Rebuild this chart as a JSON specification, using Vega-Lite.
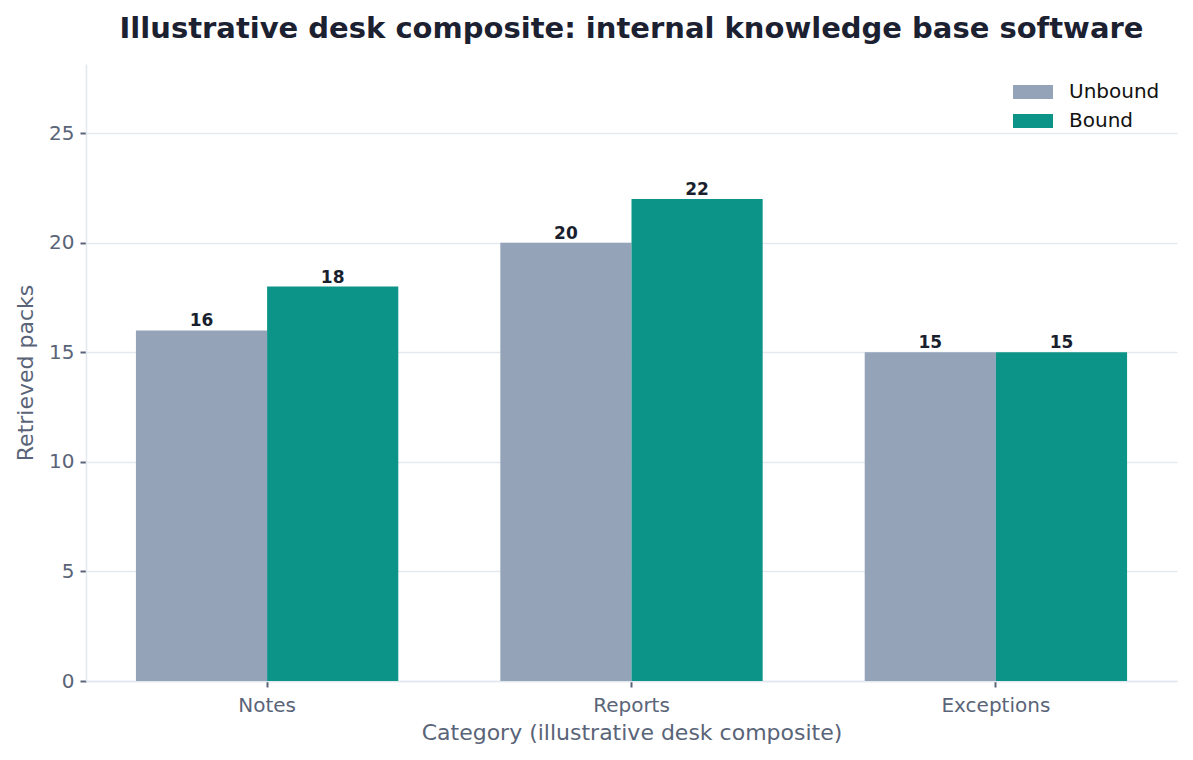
{
  "$schema": "https://vega.github.io/schema/vega-lite/v6.json",
  "width": 1091,
  "height": 617,
  "autosize": {"type": "none"},
  "padding": {"left": 86, "top": 64, "right": 16, "bottom": 79},
  "background": "white",
  "title": {
    "text": "Illustrative desk composite: internal knowledge base software",
    "font": "DejaVu Sans",
    "fontSize": 29,
    "fontWeight": "bold",
    "color": "#1c2131",
    "anchor": "middle",
    "offset": 20
  },
  "data": {
    "values": [
      {"category": "Notes", "series": "Unbound", "packs": 16},
      {"category": "Notes", "series": "Bound", "packs": 18},
      {"category": "Reports", "series": "Unbound", "packs": 20},
      {"category": "Reports", "series": "Bound", "packs": 22},
      {"category": "Exceptions", "series": "Unbound", "packs": 15},
      {"category": "Exceptions", "series": "Bound", "packs": 15}
    ]
  },
  "config": {
    "view": {"stroke": null},
    "font": "DejaVu Sans",
    "axis": {
      "labelFont": "DejaVu Sans",
      "titleFont": "DejaVu Sans",
      "labelFontSize": 20,
      "titleFontSize": 22,
      "titleFontWeight": "normal",
      "labelColor": "#5a6478",
      "titleColor": "#5a6478",
      "tickColor": "#5a6478",
      "tickSize": 6,
      "tickWidth": 2,
      "domainColor": "#e2e8f0",
      "domainWidth": 1.5,
      "gridColor": "#e5e9ef",
      "gridWidth": 1.5
    },
    "legend": {
      "labelFont": "DejaVu Sans",
      "labelFontSize": 20,
      "labelColor": "#111111"
    }
  },
  "encoding": {
    "x": {
      "field": "category",
      "type": "nominal",
      "sort": ["Notes", "Reports", "Exceptions"],
      "scale": {"paddingInner": 0.28, "paddingOuter": 0.137},
      "axis": {
        "title": "Category (illustrative desk composite)",
        "labelAngle": 0,
        "labelPadding": 8,
        "titlePadding": 7,
        "grid": false
      }
    },
    "xOffset": {
      "field": "series",
      "sort": ["Unbound", "Bound"],
      "scale": {"paddingInner": 0, "paddingOuter": 0}
    },
    "y": {
      "field": "packs",
      "type": "quantitative",
      "scale": {"domain": [0, 28.16], "nice": false},
      "axis": {
        "title": "Retrieved packs",
        "values": [0, 5, 10, 15, 20, 25],
        "labelPadding": 6,
        "titlePadding": 11,
        "grid": true
      }
    }
  },
  "layer": [
    {
      "mark": {"type": "bar"},
      "encoding": {
        "color": {
          "field": "series",
          "type": "nominal",
          "sort": ["Unbound", "Bound"],
          "scale": {"domain": ["Unbound", "Bound"], "range": ["#94a3b8", "#0d9488"]},
          "legend": {
            "title": null,
            "orient": "none",
            "legendX": 937,
            "legendY": 18,
            "symbolType": "M-2,-0.7H2V0.7H-2Z",
            "symbolSize": 400,
            "symbolStrokeWidth": 0,
            "labelOffset": 26,
            "rowPadding": 9,
            "padding": 0
          }
        }
      }
    },
    {
      "mark": {
        "type": "text",
        "baseline": "bottom",
        "dy": 0,
        "fontSize": 17,
        "fontWeight": "bold",
        "color": "#1a1f2e"
      },
      "encoding": {
        "text": {"field": "packs", "type": "quantitative"}
      }
    }
  ]
}
